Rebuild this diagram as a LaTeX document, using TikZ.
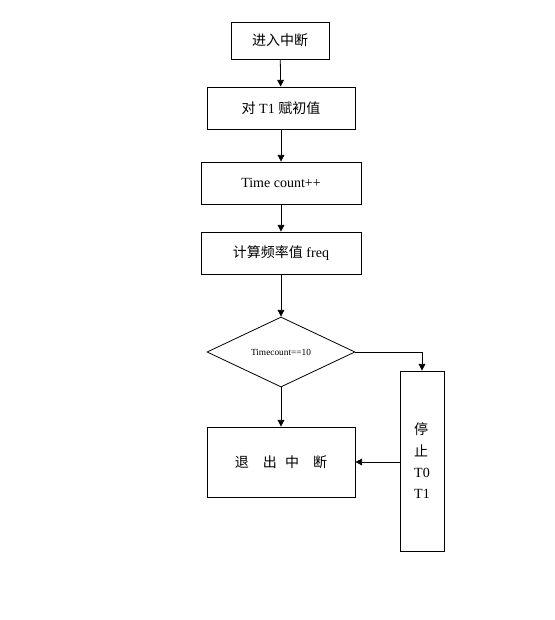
\documentclass[tikz,border=0pt]{standalone}
\usepackage{fontspec}
\setmainfont{Liberation Serif}
\newfontfamily\cjk{Noto Sans CJK SC}
\usetikzlibrary{positioning,arrows.meta,shapes.geometric}

\begin{document}
\begin{tikzpicture}[x=0.75pt,y=-0.75pt,
    stepbox/.style={draw,line width=0.6pt,inner sep=0pt,font=\fontsize{10.5}{13}\selectfont},
    decide/.style={draw,diamond,aspect=2,line width=0.6pt,inner sep=0pt,
      minimum width=111pt,minimum height=52.5pt,font=\fontsize{7}{8}\selectfont},
    arr/.style={line width=0.6pt,-{Triangle[length=5pt,width=5pt]}}]
  \useasboundingbox (0,0) rectangle (554,620);
  % main column
  \node[stepbox,minimum width=73.5pt,minimum height=27.75pt] (enter) at (280,40.5) {\cjk 进入中断};
  \node[stepbox,minimum width=111pt,minimum height=31.5pt] (init) at (281,108) {{\cjk 对} T1 {\cjk 赋初值}};
  \node[stepbox,minimum width=120pt,minimum height=31.5pt] (count) at (281,183) {Time count++};
  \node[stepbox,minimum width=120pt,minimum height=31.5pt] (calc) at (281,253) {{\cjk 计算频率值} freq};
  \node[decide] (check) at (281,352) {Timecount==10};
  \node[stepbox,minimum width=111pt,minimum height=52.5pt] (leave) at (281,462)
    {\cjk 退\hspace{1em}出\hspace{0.6em}中\hspace{1em}断};
  % side box
  \node[stepbox,minimum width=33pt,minimum height=135pt,align=left,
    font=\fontsize{10.5}{16}\selectfont] (stop) at (422,461) {{\cjk 停}\\{\cjk 止}\\T0\\T1};

  \draw[arr] (enter) -- (init);
  \draw[arr] (init) -- (count);
  \draw[arr] (count) -- (calc);
  \draw[arr] (calc) -- (check);
  \draw[arr] (check) -- (leave);
  \draw[arr] (check.east) -| (stop.north);
  \draw[arr] (stop.west |- leave) -- (leave.east);
\end{tikzpicture}
\end{document}
